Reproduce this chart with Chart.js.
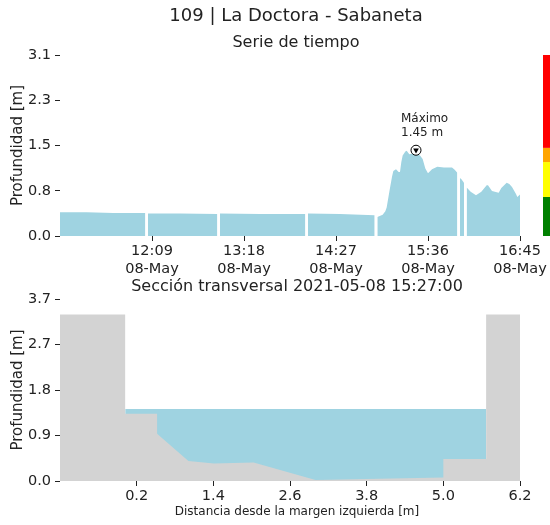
<!DOCTYPE html>
<html>
<head>
<meta charset="utf-8">
<script src="https://cdn.jsdelivr.net/npm/chart.js@4"></script>
<style>
  html, body { margin: 0; padding: 0; background: #fff; }
  #wrap { position: relative; width: 550px; height: 525px; }
  canvas { position: absolute; left: 0; }
</style>
</head>
<body>
<div id="wrap">
  <canvas id="serie" width="550" height="280" style="top:0"></canvas>
  <canvas id="seccion" width="550" height="249" style="top:276px"></canvas>
</div>
<script>
// serie de tiempo: hora y profundidad [m], null = sin dato
const horas = ['11:00','11:20','11:40','12:04','12:05','12:06','12:30','12:58','12:59','13:00',
  '13:30','14:04','14:05','14:06','14:30','14:56','14:57','14:58','15:02','15:04',
  '15:05','15:07','15:09','15:10','15:12','15:14','15:15','15:16','15:17','15:19',
  '15:20','15:22','15:24','15:27','15:30','15:32','15:34','15:36','15:39','15:43',
  '15:48','15:54','15:56','15:58','15:59','16:00','16:01','16:03','16:04','16:05',
  '16:08','16:12','16:16','16:20','16:21','16:24','16:29','16:31','16:35','16:37',
  '16:39','16:42','16:43','16:45'];
const profundidad = [0.40, 0.40, 0.39, 0.39, null, 0.38, 0.38, 0.37, null, 0.38,
  0.37, 0.37, null, 0.38, 0.37, 0.35, null, 0.32, 0.36, 0.42,
  0.48, 0.75, 1.00, 1.10, 1.13, 1.08, 1.08, 1.25, 1.36, 1.43,
  1.44, 1.38, 1.39, 1.40, 1.36, 1.30, 1.14, 1.06, 1.13, 1.17,
  1.16, 1.16, 1.12, 1.07, null, 0.98, 0.96, 0.90, null, 0.82,
  0.75, 0.69, 0.75, 0.86, 0.86, 0.76, 0.73, 0.81, 0.90, 0.88,
  0.83, 0.71, 0.66, 0.70];

const maxHora = '15:27';
const maxValor = 1.45;

// eje del tiempo
const horaInicio = '11:00';
const horaFin = '16:45';
const horasEje = ['12:09', '13:18', '14:27', '15:36', '16:45'];
const fechaEje = '08-May';
const maxSerie = 3.06;
const ticksSerie = [0, 0.765, 1.53, 2.295, 3.06];

// niveles de alerta (barra de colores)
const nivelesAlerta = [0, 0.66, 1.25, 1.49, 3.06];
const coloresAlerta = ['#008000', '#ffff00', '#ffa500', '#ff0000'];

// seccion transversal
const seccionX = [-1.0, 0.02, 0.02, 0.52, 0.52, 1.01, 1.41, 2.03, 3.0, 5.0, 5.0, 5.67, 5.67, 6.2];
const seccionCota = [3.35, 3.35, 1.35, 1.35, 0.95, 0.40, 0.35, 0.37, 0.02, 0.07, 0.44, 0.44, 3.35, 3.35];
const aguaX = [0.02, 5.67];
const nivelAgua = 1.45;
const ticksDistancia = [0.2, 1.4, 2.6, 3.8, 5.0, 6.2];
const maxSeccion = 3.66;
const ticksSeccion = [0, 0.915, 1.83, 2.745, 3.66];

const azul = '#9fd3e1';
const gris = '#d3d3d3';
const tinta = '#222222';
const fam = '"DejaVu Sans", sans-serif';
const fuenteTick = { family: fam, size: 14.5 };

const toMin = h => { const [a, b] = h.split(':').map(Number); return a * 60 + b; };
const fmtHora = v => String(Math.floor(v / 60)).padStart(2, '0') + ':' + String(v % 60).padStart(2, '0');

// textos sueltos (titulos) en coordenadas del canvas
const textos = {
  id: 'textos',
  afterDraw(chart, args, opts) {
    const ctx = chart.ctx;
    ctx.save();
    ctx.fillStyle = tinta;
    ctx.textBaseline = 'middle';
    (opts.items || []).forEach(t => {
      ctx.font = t.size + 'px ' + fam;
      ctx.textAlign = t.align || 'center';
      ctx.fillText(t.text, t.x, t.y);
    });
    ctx.restore();
  }
};

// barra de niveles a la derecha del area de la serie
const barraAlerta = {
  id: 'barraAlerta',
  afterDraw(chart) {
    const ctx = chart.ctx;
    const y = chart.scales.y;
    const x0 = chart.chartArea.right + 23;
    ctx.save();
    coloresAlerta.forEach((c, i) => {
      const top = y.getPixelForValue(nivelesAlerta[i + 1]);
      const bot = y.getPixelForValue(nivelesAlerta[i]);
      ctx.fillStyle = c;
      ctx.fillRect(x0, top, 8, bot - top);
    });
    ctx.restore();
  }
};

// etiqueta del maximo
const etiquetaMax = {
  id: 'etiquetaMax',
  afterDraw(chart) {
    const ctx = chart.ctx;
    const px = chart.scales.x.getPixelForValue(toMin(maxHora));
    const py = chart.scales.y.getPixelForValue(maxValor);
    ctx.save();
    ctx.fillStyle = tinta;
    ctx.font = '12px ' + fam;
    ctx.textAlign = 'left';
    ctx.textBaseline = 'middle';
    ctx.fillText('Máximo', px - 15, py - 31);
    ctx.fillText(maxValor.toFixed(2) + ' m', px - 15, py - 17);
    ctx.restore();
  }
};

const gridTicks = { drawOnChartArea: false, drawTicks: true, tickLength: 5, color: tinta };

// serie de tiempo
new Chart(document.getElementById('serie'), {
  type: 'line',
  data: {
    datasets: [{
      data: horas.map((h, i) => ({ x: toMin(h), y: profundidad[i] })),
      fill: 'origin',
      backgroundColor: azul,
      borderColor: 'transparent',
      borderWidth: 0,
      pointRadius: 0,
      spanGaps: false,
      order: 2
    }, {
      data: [{ x: toMin(maxHora), y: maxValor }],
      showLine: false,
      pointStyle: 'circle',
      pointRadius: 5,
      pointBackgroundColor: '#fff',
      pointBorderColor: '#000',
      pointBorderWidth: 1,
      order: 1
    }, {
      data: [{ x: toMin(maxHora), y: maxValor }],
      showLine: false,
      pointStyle: 'triangle',
      rotation: 180,
      pointRadius: 3.3,
      pointBackgroundColor: '#000',
      pointBorderColor: '#000',
      pointBorderWidth: 0,
      order: 0
    }]
  },
  options: {
    responsive: false,
    animation: false,
    layout: { padding: { top: 55, right: 30, left: 0, bottom: 0 } },
    plugins: {
      legend: { display: false },
      tooltip: { enabled: false },
      textos: { items: [
        { text: '109 | La Doctora - Sabaneta', x: 296, y: 16, size: 18 },
        { text: 'Serie de tiempo', x: 296, y: 43, size: 16 }
      ] }
    },
    scales: {
      x: {
        type: 'linear',
        min: toMin(horaInicio),
        max: toMin(horaFin),
        afterFit: s => { s.height = 44; },
        afterBuildTicks: s => { s.ticks = horasEje.map(h => ({ value: toMin(h) })); },
        ticks: { callback: v => [fmtHora(v), fechaEje], autoSkip: false, maxRotation: 0,
          padding: 2, color: tinta, font: fuenteTick },
        grid: gridTicks,
        border: { display: false }
      },
      y: {
        min: 0,
        max: maxSerie,
        afterFit: s => { s.width = 60; },
        afterBuildTicks: s => { s.ticks = ticksSerie.map(v => ({ value: v })); },
        ticks: { callback: v => v.toFixed(1), padding: 4, color: tinta, font: fuenteTick },
        grid: gridTicks,
        border: { display: false },
        title: { display: true, text: 'Profundidad [m]', color: tinta,
          font: { family: fam, size: 15 }, padding: { top: 9, bottom: 0 } }
      }
    }
  },
  plugins: [textos, barraAlerta, etiquetaMax]
});

// seccion transversal
new Chart(document.getElementById('seccion'), {
  type: 'line',
  data: {
    datasets: [{
      data: seccionX.map((x, i) => ({ x, y: seccionCota[i] })),
      fill: 'origin',
      backgroundColor: gris,
      borderColor: 'transparent',
      borderWidth: 0,
      pointRadius: 0,
      order: 0
    }, {
      data: aguaX.map(x => ({ x, y: nivelAgua })),
      fill: 'origin',
      backgroundColor: azul,
      borderColor: 'transparent',
      borderWidth: 0,
      pointRadius: 0,
      order: 1
    }]
  },
  options: {
    responsive: false,
    animation: false,
    layout: { padding: { top: 23, right: 30, left: 0, bottom: 0 } },
    plugins: {
      legend: { display: false },
      tooltip: { enabled: false },
      textos: { items: [
        { text: 'Sección transversal 2021-05-08 15:27:00', x: 297, y: 11, size: 16 },
        { text: 'Distancia desde la margen izquierda [m]', x: 297, y: 235.5, size: 12 }
      ] }
    },
    scales: {
      x: {
        type: 'linear',
        min: -1.0,
        max: 6.2,
        afterFit: s => { s.height = 44; },
        afterBuildTicks: s => { s.ticks = ticksDistancia.map(v => ({ value: v })); },
        ticks: { callback: v => v.toFixed(1), autoSkip: false, maxRotation: 0,
          padding: 2, color: tinta, font: fuenteTick },
        grid: gridTicks,
        border: { display: false }
      },
      y: {
        min: 0,
        max: maxSeccion,
        afterFit: s => { s.width = 60; },
        afterBuildTicks: s => { s.ticks = ticksSeccion.map(v => ({ value: v })); },
        ticks: { callback: v => v.toFixed(1), padding: 4, color: tinta, font: fuenteTick },
        grid: gridTicks,
        border: { display: false },
        title: { display: true, text: 'Profundidad [m]', color: tinta,
          font: { family: fam, size: 15 }, padding: { top: 9, bottom: 0 } }
      }
    }
  },
  plugins: [textos]
});
</script>
</body>
</html>
